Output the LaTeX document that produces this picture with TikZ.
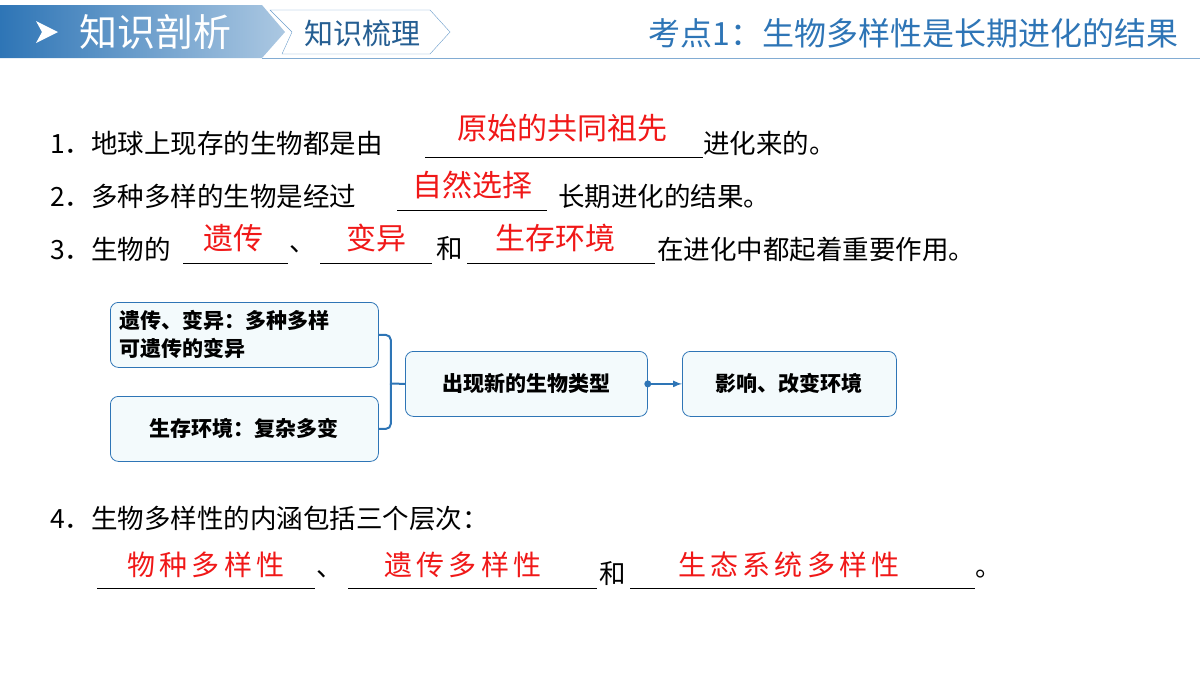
\documentclass[tikz,border=0pt]{standalone}
\usepackage{fontspec}
\setmainfont{Noto Sans CJK SC}
\newfontfamily\cjk{Noto Sans CJK SC}
\usetikzlibrary{positioning,shadings}
\definecolor{hdblue}{HTML}{2E75B6}
\definecolor{boxfill}{HTML}{F3FAFC}
\definecolor{ansred}{HTML}{F01818}
\tikzset{
  body/.style={anchor=west, inner sep=0pt, font=\fontsize{26.5}{30}\selectfont},
  answer/.style={inner sep=0pt, text=ansred, font=\fontsize{30}{34}\selectfont},
  blank/.style={thick},
  flowbox/.style={draw=hdblue, fill=boxfill, rounded corners=8pt, thick, font=\fontsize{21}{28}\selectfont\bfseries, align=left}
}
\begin{document}
\begin{tikzpicture}[x=1pt,y=-1pt]
    \useasboundingbox (0,0) rectangle (1200,675);
    % Header banner
    \shade[left color=hdblue, right color=hdblue!40] (0,5) -- (262,5) -- (285,32) -- (262,58) -- (0,58) -- cycle;
    \fill[white] (36,21) -- (58,32) -- (36,43) -- (42,32) -- cycle;
    \node[anchor=west, text=white, font=\fontsize{38}{42}\selectfont] (hdl) at (76,32) {知识剖析};
    \draw[hdblue!70, fill=white] (270,10) -- (430,10) -- (450,32) -- (430,54) -- (282,54) -- (292,32) -- cycle;
    \node[text=hdblue!80!black, font=\fontsize{29}{32}\selectfont] (hdr) at (362,33) {知识梳理};
    \draw[hdblue!60, thick] (262,58) -- (1200,58);
    \node[anchor=east, text=hdblue, font=\fontsize{32}{36}\selectfont] (title) at (1182,33) {考点1：生物多样性是长期进化的结果};

    % Line 1
    \node[body] (l1) at (50,143) {1．地球上现存的生物都是由};
    \draw[blank] (425,157) coordinate (b1a) -- (703,157) coordinate (b1b);
    \node[answer] (a1) at (562,128) {原始的共同祖先};
    \node[body] (l1e) at (703,143) {进化来的。};

    % Line 2
    \node[body] (l2) at (50,196) {2．多种多样的生物是经过};
    \draw[blank] (397,210) coordinate (b2a) -- (547,210) coordinate (b2b);
    \node[answer] (a2) at (472,185) {自然选择};
    \node[body] (l2e) at (558,196) {长期进化的结果。};

    % Line 3
    \node[body] (l3) at (50,249) {3．生物的};
    \draw[blank] (183,263) coordinate (b3a) -- (288,263) coordinate (b3b);
    \node[body] (d1) at (289,249) {、};
    \draw[blank] (320,263) coordinate (b3c) -- (432,263) coordinate (b3d);
    \node[body] (h1) at (436,249) {和};
    \draw[blank] (467,263) coordinate (b3e) -- (655,263) coordinate (b3f);
    \node[body] (l3e) at (657,249) {在进化中都起着重要作用。};
    \node[answer] (a3a) at (233,238) {遗传};
    \node[answer] (a3b) at (376,238) {变异};
    \node[answer] (a3c) at (555,238) {生存环境};

    % Flow chart
    \node[flowbox, minimum width=268pt, minimum height=65pt, anchor=north west, text width=250pt] (herit) at (110,302) {遗传、变异：多种多样\\可遗传的变异};
    \node[flowbox, minimum width=268pt, minimum height=65pt, anchor=north west, align=center] (envir) at (110,396) {生存环境：复杂多变};
    \node[flowbox, minimum width=242pt, minimum height=65pt, anchor=north west, align=center] (newtype) at (405,351) {出现新的生物类型};
    \node[flowbox, minimum width=214pt, minimum height=65pt, anchor=north west, align=center] (affect) at (682,351) {影响、改变环境};
    \draw[hdblue, line width=2pt, rounded corners=5pt] (herit.east) -- ++(12,0) |- (envir.east);
    \draw[hdblue, line width=2pt] (390,383.5) -- (newtype.west);
    \draw[hdblue, line width=2pt, -latex] (newtype.east) -- (affect.west);
    \fill[hdblue] (newtype.east) circle (3.5pt);

    % Line 4
    \node[body] (l4) at (50,518) {4．生物多样性的内涵包括三个层次：};
    \draw[blank] (97,588) coordinate (b4a) -- (315,588) coordinate (b4b);
    \node[body] (d2) at (316,574) {、};
    \draw[blank] (348,588) coordinate (b4c) -- (597,588) coordinate (b4d);
    \node[body] (h2) at (599,574) {和};
    \draw[blank] (630,588) coordinate (b4e) -- (975,588) coordinate (b4f);
    \node[body] (p4) at (975,574) {。};
    \node[answer, font=\fontsize{28}{30}\selectfont\addfontfeature{LetterSpace=15}] (a4a) at (206,565) {物种多样性};
    \node[answer, font=\fontsize{28}{30}\selectfont\addfontfeature{LetterSpace=15}] (a4b) at (463,565) {遗传多样性};
    \node[answer, font=\fontsize{28}{30}\selectfont\addfontfeature{LetterSpace=15}] (a4c) at (789,565) {生态系统多样性};
\end{tikzpicture}
\end{document}
